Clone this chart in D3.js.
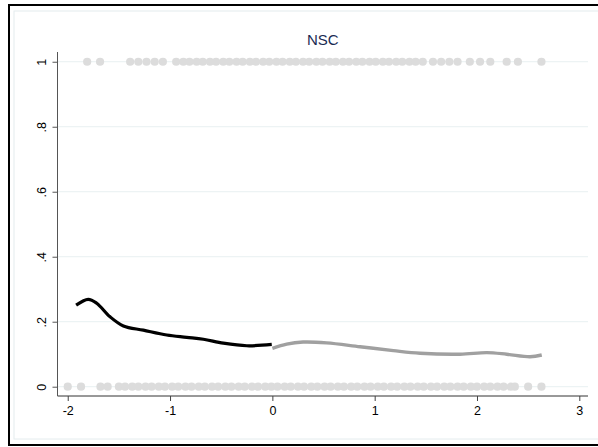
<!DOCTYPE html>
<html>
<head>
<meta charset="utf-8">
<script src="https://cdn.jsdelivr.net/npm/d3@7"></script>
<style>
  html, body { margin: 0; padding: 0; background: #fff; }
  svg { display: block; }
</style>
</head>
<body>
<svg id="chart" width="598" height="447"></svg>
<script>
// Observed outcomes (jittered along x) at y = 1 and y = 0
const topDotsX = [-1.81, -1.684, -1.39, -1.31, -1.23, -1.15, -1.07,
  -0.94, -0.87, -0.81, -0.74, -0.68, -0.61, -0.55, -0.48, -0.42, -0.35, -0.29, -0.22, -0.16, -0.09, -0.03,
  0.04, 0.10, 0.17, 0.23, 0.30, 0.36, 0.43, 0.49, 0.56, 0.62, 0.69, 0.75, 0.82, 0.88, 0.95, 1.01, 1.08,
  1.14, 1.21, 1.27, 1.34, 1.40, 1.47,
  1.57, 1.65, 1.73, 1.81, 1.93, 2.03, 2.13, 2.29, 2.40, 2.63];
const bottomDotsX = [-2.00, -1.87, -1.68, -1.61,
  -1.50, -1.44, -1.37, -1.31, -1.24, -1.18, -1.11, -1.05, -0.98, -0.92, -0.85, -0.79, -0.72, -0.66, -0.59,
  -0.53, -0.46, -0.40, -0.33, -0.27, -0.20, -0.14, -0.07, -0.01, 0.05, 0.12, 0.18, 0.25, 0.31, 0.38, 0.44,
  0.51, 0.57, 0.64, 0.70, 0.77, 0.83, 0.90, 0.96, 1.03, 1.09, 1.16, 1.22, 1.29, 1.35, 1.42, 1.48, 1.55,
  1.61, 1.68, 1.74, 1.81, 1.87, 1.94, 2.00, 2.07, 2.13, 2.20, 2.26, 2.33, 2.37,
  2.50, 2.63];

// Smoothed fit below the cutoff (black) and above it (gray)
const leftX = [-1.918, -1.80, -1.717, -1.586, -1.456, -1.261, -1.032, -0.837, -0.674, -0.479, -0.25, -0.006];
const leftY = [0.251, 0.269, 0.257, 0.215, 0.187, 0.174, 0.159, 0.152, 0.146, 0.134, 0.126, 0.130];
const rightX = [0.0, 0.14, 0.30, 0.53, 0.857, 1.183, 1.444, 1.835, 2.096, 2.291, 2.519, 2.633];
const rightY = [0.118, 0.131, 0.1375, 0.135, 0.123, 0.111, 0.103, 0.100, 0.105, 0.100, 0.092, 0.0975];

const xTicks = [-2, -1, 0, 1, 2, 3];
const xTickLabels = ["-2", "-1", "0", "1", "2", "3"];
const yTicks = [0, 0.2, 0.4, 0.6, 0.8, 1];
const yTickLabels = ["0", ".2", ".4", ".6", ".8", "1"];
const title = "NSC";

const svg = d3.select("#chart");
const font = "'Liberation Sans', Arial, sans-serif";

// Outer frame and inner plot-region border
svg.append("rect").attr("x", 9).attr("y", 5).attr("width", 600).attr("height", 440)
  .attr("fill", "none").attr("stroke", "#000").attr("stroke-width", 2);
svg.append("rect").attr("x", 14).attr("y", 11).attr("width", 600).attr("height", 428)
  .attr("fill", "none").attr("stroke", "#e4ecee").attr("stroke-width", 1);

const x = d3.scaleLinear().domain([-2.1, 3.085]).range([57.5, 588]);
const y = d3.scaleLinear().domain([-0.0286, 1.03]).range([396, 52]);

// Horizontal grid
svg.append("g").selectAll("line").data(yTicks).join("line")
  .attr("x1", x.range()[0]).attr("x2", x.range()[1])
  .attr("y1", d => y(d)).attr("y2", d => y(d))
  .attr("stroke", "#e8f0f1").attr("stroke-width", 1);

// Title
svg.append("text").attr("x", (x.range()[0] + x.range()[1]) / 2).attr("y", 45)
  .attr("text-anchor", "middle").attr("font-family", font).attr("font-size", 15)
  .attr("fill", "#1a2b52").text(title);

// Dots
const dotColor = "#dcdcdc";
svg.append("g").selectAll("circle").data(topDotsX).join("circle")
  .attr("cx", d => x(d)).attr("cy", y(1)).attr("r", 4.1).attr("fill", dotColor);
svg.append("g").selectAll("circle").data(bottomDotsX).join("circle")
  .attr("cx", d => x(d)).attr("cy", y(0)).attr("r", 4.1).attr("fill", dotColor);

// Fitted lines
const line = d3.line().x(d => x(d[0])).y(d => y(d[1])).curve(d3.curveCatmullRom.alpha(0.5));
svg.append("path").datum(d3.zip(rightX, rightY)).attr("d", line)
  .attr("fill", "none").attr("stroke", "#a0a0a0").attr("stroke-width", 3.4)
  .attr("stroke-linecap", "butt");
svg.append("path").datum(d3.zip(leftX, leftY)).attr("d", line)
  .attr("fill", "none").attr("stroke", "#000").attr("stroke-width", 3.2)
  .attr("stroke-linecap", "butt");

// X axis
const xAxis = svg.append("g").attr("transform", `translate(0,396)`)
  .call(d3.axisBottom(x).tickValues(xTicks).tickSize(5).tickPadding(5)
    .tickFormat((d, i) => xTickLabels[i]));
xAxis.select(".domain").attr("stroke", "#333").attr("d", `M${x.range()[0]},0H${x.range()[1]}`);
xAxis.selectAll(".tick line").attr("stroke", "#444");
xAxis.selectAll("text").attr("font-family", font).attr("font-size", 12.5).attr("fill", "#000");

// Y axis
const yAxis = svg.append("g").attr("transform", `translate(57.5,0)`)
  .call(d3.axisLeft(y).tickValues(yTicks).tickSize(5).tickFormat((d, i) => yTickLabels[i]));
yAxis.select(".domain").attr("stroke", "#555").attr("d", `M0,${y.range()[0]}V${y.range()[1]}`);
yAxis.selectAll(".tick line").attr("stroke", "#555");
yAxis.selectAll("text")
  .attr("font-family", font).attr("font-size", 12.5).attr("fill", "#000")
  .attr("x", 0).attr("dy", 0).attr("text-anchor", "middle")
  .attr("transform", "translate(-12,0) rotate(-90)");
</script>
</body>
</html>
